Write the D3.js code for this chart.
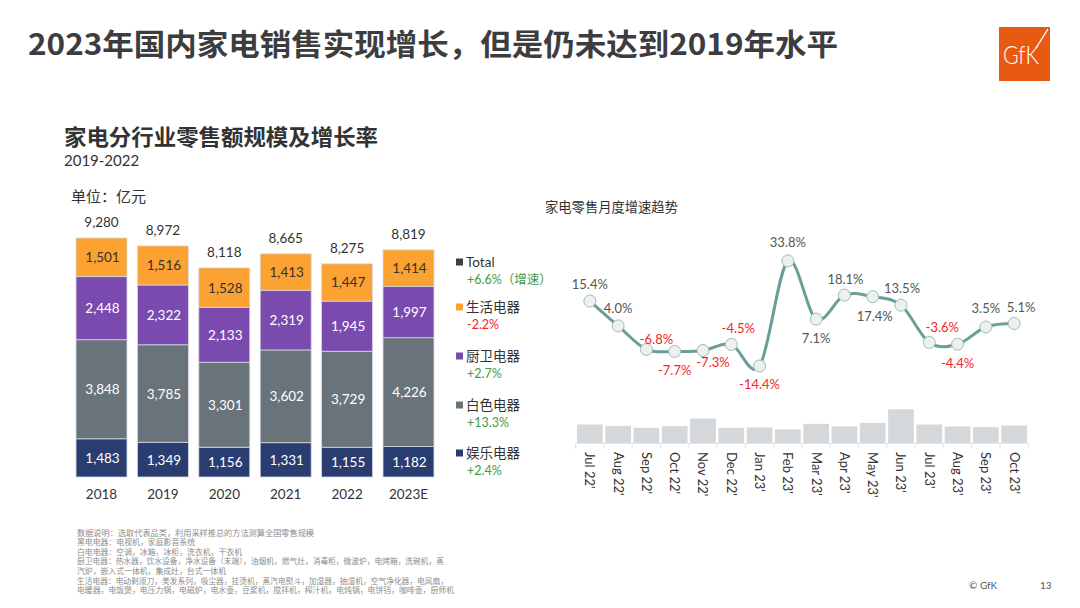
<!DOCTYPE html>
<html><head><meta charset="utf-8">
<script src="https://cdn.jsdelivr.net/npm/d3@7"></script>
<style>
html,body{margin:0;padding:0;background:#fff;}
svg{display:block;font-family:Lato,"Noto Sans CJK SC",sans-serif;}
</style></head>
<body>
<svg id="c" width="1080" height="608"></svg>
<script>
// ---------- DATA ----------
const years = ["2018","2019","2020","2021","2022","2023E"];
const entertainment = [1483,1349,1156,1331,1155,1182]; // 娱乐电器
const white = [3848,3785,3301,3602,3729,4226];         // 白色电器
const kitchen = [2448,2322,2133,2319,1945,1997];       // 厨卫电器
const living = [1501,1516,1528,1413,1447,1414];        // 生活电器
const totals = [9280,8972,8118,8665,8275,8819];
const seriesNames = ["娱乐电器","白色电器","厨卫电器","生活电器"];
const legendNames = ["Total","生活电器","厨卫电器","白色电器","娱乐电器"];
const legendGrowth = ["+6.6%（增速）","-2.2%","+2.7%","+13.3%","+2.4%"];

const months = ["Jul 22'","Aug 22'","Sep 22'","Oct 22'","Nov 22'","Dec 22'","Jan 23'","Feb 23'","Mar 23'","Apr 23'","May 23'","Jun 23'","Jul 23'","Aug 23'","Sep 23'","Oct 23'"];
const growth = [15.4,4.0,-6.8,-7.7,-7.3,-4.5,-14.4,33.8,7.1,18.1,17.4,13.5,-3.6,-4.4,3.5,5.1];
const monthlySales = [560,520,460,510,740,460,470,410,580,500,610,1020,560,500,480,530];

const footnotes = [
 "数据说明：选取代表品类，利用采样推总的方法测算全国零售规模",
 "黑电电器：电视机，家庭影音系统",
 "白电电器：空调，冰箱，冰柜，洗衣机，干衣机",
 "厨卫电器：热水器，饮水设备，净水设备（末端），油烟机，燃气灶，消毒柜，微波炉，电烤箱，洗碗机，蒸",
 "汽炉，嵌入式一体机，集成灶，台式一体机",
 "生活电器：电动剃须刀，美发系列，吸尘器，挂烫机，蒸汽电熨斗，加湿器，抽湿机，空气净化器，电风扇，",
 "电暖器，电饭煲，电压力锅，电磁炉，电水壶，豆浆机，搅拌机，榨汁机，电炖锅，电饼铛，咖啡壶，厨师机"
];

// ---------- STYLE / LAYOUT ----------
const segColors = ["#293d70","#69747a","#7b4aae","#fba232"];
const segText = ["#ffffff","#ffffff","#ffffff","#333333"];
const legendColors = ["#3b4046","#fba232","#7b4aae","#69747a","#293d70"];
const green = "#3f9a45", red = "#f5232b";
// label offsets for line chart (dx, dy to text centre)
const lblOff = [[0,-17],[0,-17],[10,-10],[0,19],[10,12],[7,-16],[0,19],[0,-18],[0,19],[1,-16],[2,20],[1,-17],[13,-15],[0,19],[0,-18],[7,-16]];
const footWidths = [237,118,165,367,149,371,377];

const svg = d3.select("#c");

// Title
svg.append("text").attr("x",28).attr("y",55).attr("font-family","'Noto Sans CJK SC',sans-serif")
  .attr("font-weight",700).attr("font-size",30).attr("fill","#3d3d3f")
  .attr("textLength",810).attr("lengthAdjust","spacingAndGlyphs")
  .text("2023年国内家电销售实现增长，但是仍未达到2019年水平");

// GfK logo
const logo = svg.append("g");
logo.append("rect").attr("x",999).attr("y",27).attr("width",51).attr("height",54).attr("fill","#e85a12");
logo.append("text").attr("x",1021).attr("y",64).attr("text-anchor","middle").attr("fill","#fff")
  .attr("font-family","Lato,sans-serif").attr("font-weight",300).attr("font-size",25)
  .attr("textLength",36).attr("lengthAdjust","spacingAndGlyphs").text("GfK");
logo.append("line").attr("x1",1048).attr("y1",29).attr("x2",1036).attr("y2",48).attr("stroke","#fff").attr("stroke-width",1.4);

// Subtitle
svg.append("text").attr("x",64).attr("y",145).attr("font-family","'Noto Sans CJK SC',sans-serif")
  .attr("font-weight",700).attr("font-size",22).attr("fill","#333")
  .attr("textLength",314).attr("lengthAdjust","spacingAndGlyphs").text("家电分行业零售额规模及增长率");
svg.append("text").attr("x",64).attr("y",166).attr("font-size",15).attr("fill","#333").text("2019-2022");
svg.append("text").attr("x",71).attr("y",202).attr("font-family","'Noto Sans CJK SC',sans-serif")
  .attr("font-size",15).attr("fill","#333").text("单位：亿元");

// ---------- STACKED BARS ----------
const x = d3.scaleBand().domain(years).range([70.8,439.2]).paddingInner(0.17).paddingOuter(0.085);
const y = d3.scaleLinear().domain([0,9280]).range([477,238]);
const rows = years.map((yr,i)=>({year:yr,"娱乐电器":entertainment[i],"白色电器":white[i],"厨卫电器":kitchen[i],"生活电器":living[i]}));
const stack = d3.stack().keys(seriesNames)(rows);
const gBars = svg.append("g");
stack.forEach((layer,li)=>{
  const g = gBars.append("g");
  g.selectAll("rect").data(layer).join("rect")
    .attr("x",d=>x(d.data.year)).attr("width",x.bandwidth())
    .attr("y",d=>y(d[1])).attr("height",d=>y(d[0])-y(d[1]))
    .attr("fill",segColors[li]).attr("stroke","#d4d8e2").attr("stroke-width",0.8);
  g.selectAll("text").data(layer).join("text")
    .attr("x",d=>x(d.data.year)+x.bandwidth()/2+1)
    .attr("y",d=>(y(d[0])+y(d[1]))/2+5)
    .attr("text-anchor","middle").attr("font-size",13.5).attr("fill",segText[li])
    .text(d=>d3.format(",")(d[1]-d[0]));
});
svg.append("g").selectAll("text").data(years).join("text")
  .attr("x",(d)=>x(d)+x.bandwidth()/2).attr("y",(d,i)=>y(d3.sum(stack,l=>l[i][1]-l[i][0]))-11)
  .attr("text-anchor","middle").attr("font-size",13.5).attr("fill","#333")
  .text((d,i)=>d3.format(",")(totals[i]));
const xAxis = svg.append("g").attr("transform","translate(0,477)")
  .call(d3.axisBottom(x).tickSize(0).tickPadding(12));
xAxis.select(".domain").remove();
xAxis.selectAll("text").attr("font-size",13.5).attr("fill","#333").attr("font-family","Lato,sans-serif");

// Legend
const legY = [262,307,356,405,453];
const legG = svg.append("g");
legendNames.forEach((n,i)=>{
  legG.append("rect").attr("x",456).attr("y",legY[i]-3.5).attr("width",7).attr("height",7).attr("fill",legendColors[i]);
  legG.append("text").attr("x",466).attr("y",legY[i]+5).attr("font-size",13.5).attr("fill","#333").text(n);
  legG.append("text").attr("x",467).attr("y",legY[i]+22).attr("font-size",12.5)
    .attr("fill",legendGrowth[i].startsWith("-")?red:green).text(legendGrowth[i]);
});

// ---------- LINE + BARS (monthly) ----------
svg.append("text").attr("x",545).attr("y",212).attr("font-family","'Noto Sans CJK SC',sans-serif")
  .attr("font-size",13.3).attr("fill","#333").text("家电零售月度增速趋势");
const xm = d3.scaleBand().domain(months).range([575.7,1028.3]).paddingInner(0.09).paddingOuter(0.045);
const yb = d3.scaleLinear().domain([0,d3.max(monthlySales)]).range([443,409.3]);
const yl = d3.scaleLinear().domain([-20,40]).range([378.2,247.4]);

svg.append("g").selectAll("rect").data(monthlySales).join("rect")
  .attr("x",(d,i)=>xm(months[i])).attr("width",xm.bandwidth())
  .attr("y",d=>yb(d)).attr("height",d=>yb(0)-yb(d)).attr("fill","#d5d8db");
const mAxis = svg.append("g").attr("transform","translate(0,443)")
  .call(d3.axisBottom(xm).tickSize(0).tickPadding(0));
mAxis.select(".domain").attr("stroke","#e6e6e6");
// boundary ticks
const bounds = months.map(m=>xm(m)-xm.step()*xm.paddingInner()/2).concat([xm.range()[1]]);
svg.append("g").selectAll("line").data(bounds).join("line")
  .attr("x1",d=>d).attr("x2",d=>d).attr("y1",443).attr("y2",449).attr("stroke","#e3e3e3");
mAxis.selectAll(".tick text").attr("transform","translate(0,9) rotate(90)")
  .attr("text-anchor","start").attr("dy","0.35em").attr("dx",0).attr("y",0)
  .attr("font-size",13).attr("fill","#333").attr("font-family","Lato,sans-serif");

const cx = i=>xm(months[i])+xm.bandwidth()/2;
const line = d3.line().x((d,i)=>cx(i)).y(d=>yl(d)).curve(d3.curveCatmullRom.alpha(0));
svg.append("path").datum(growth).attr("d",line).attr("fill","none")
  .attr("stroke","#6a9e98").attr("stroke-width",3);
svg.append("g").selectAll("circle").data(growth).join("circle")
  .attr("cx",(d,i)=>cx(i)).attr("cy",d=>yl(d)).attr("r",6)
  .attr("fill","#eef0ef").attr("stroke","#9dbdb8").attr("stroke-width",1);
svg.append("g").selectAll("text").data(growth).join("text")
  .attr("x",(d,i)=>cx(i)+lblOff[i][0]).attr("y",(d,i)=>yl(d)+lblOff[i][1]+4.5)
  .attr("text-anchor","middle").attr("font-size",13)
  .attr("fill",d=>d<0?red:"#555").text(d=>d.toFixed(1)+"%");

// Footnotes
svg.append("g").selectAll("text").data(footnotes).join("text")
  .attr("x",77).attr("y",(d,i)=>535.5+i*9.6).attr("font-family","'Noto Sans CJK SC',sans-serif")
  .attr("font-size",7.5).attr("fill","#8c8c8c")
  .attr("textLength",(d,i)=>footWidths[i]).attr("lengthAdjust","spacingAndGlyphs").text(d=>d);

// Footer
svg.append("text").attr("x",969).attr("y",589).attr("font-size",10).attr("fill","#555").text("© GfK");
svg.append("text").attr("x",1040).attr("y",589).attr("font-size",10).attr("fill","#555").text("13");
</script>
</body></html>
